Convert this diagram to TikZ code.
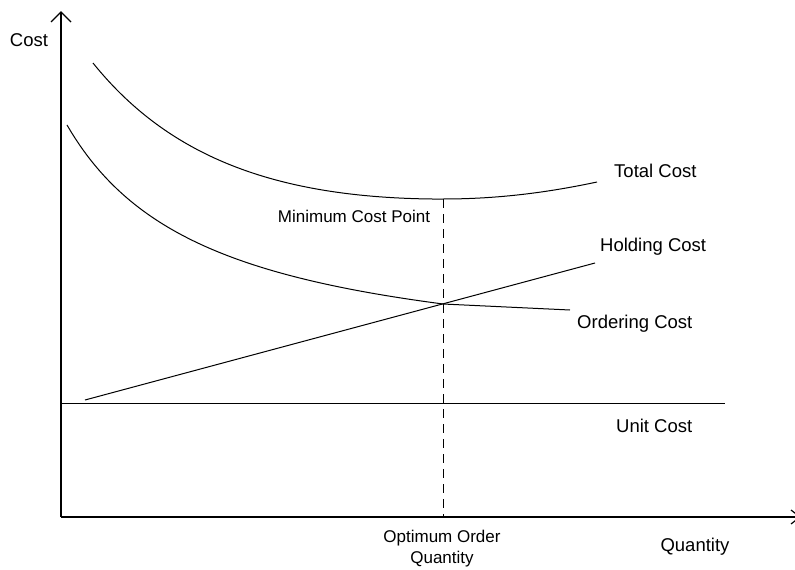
\documentclass[tikz,border=0pt]{standalone}
\usepackage{fontspec}
\setmainfont{Liberation Sans}
\begin{document}
\begin{tikzpicture}[x=1pt,y=-1pt,
  curve/.style={line width=1pt,black},
  axis/.style={line width=1.2pt,black},
  lbl/.style={font=\fontsize{18.5}{21}\selectfont,inner sep=0pt},
  small/.style={font=\fontsize{17}{21}\selectfont,inner sep=0pt,align=center}]
\useasboundingbox (0,0) rectangle (795,570);
% axes
\coordinate (O) at (61,517);
\coordinate (ytop) at (61,12);
\coordinate (xend) at (800,517);
\draw[axis] (O) -- (ytop);
\draw[axis] (51,22) -- (ytop) -- (71,22);
\draw[axis] (O) -- (xend);
\draw[axis] (791,510) -- (xend) -- (791,524);
% unit cost
\coordinate (u0) at (61,403);
\coordinate (u1) at (725,403);
\draw[curve] (u0) -- (u1);
% holding cost
\coordinate (h0) at (85,400);
\coordinate (h1) at (595,263);
\draw[curve] (h0) -- (h1);
% ordering cost: hyperbola, u = x/100
\coordinate (eq) at (443,304);
\draw[curve] plot[domain=0.67:4.43,samples=90,variable=\u] ({100*\u},{372.1-353.61/(\u+0.761)});
\coordinate (o1) at (570,310);
\draw[curve] (eq) -- (o1);
% total cost: hyperbola plus linear term, lowest at the optimum
\coordinate (tmin) at (443,199);
\coordinate (tend) at (597,182);
\draw[curve] plot[domain=0.93:4.43,samples=90,variable=\u] ({100*\u},{552.4-1345.2/(\u+2)-32.536*\u});
\draw[curve] (tmin) .. controls (500,199) and (550,192) .. (tend);
% optimum line
\coordinate (qx) at (443,517);
\draw[line width=1pt,dash pattern=on 9pt off 6pt] (tmin) -- (qx);
% labels
\node[lbl,anchor=center] (cost) at (29,40) {Cost};
\node[lbl,anchor=west] (ltc) at (614,171) {Total Cost};
\node[lbl,anchor=west] (lhc) at (600,247) {Holding Cost};
\node[lbl,anchor=west] (loc) at (577,324) {Ordering Cost};
\node[lbl,anchor=west] (luc) at (616,426) {Unit Cost};
\node[small,anchor=center] (lmin) at (354,216) {Minimum Cost Point};
\node[small,anchor=center] (lopt) at (442,549) {Optimum Order\\Quantity};
\node[lbl,anchor=center] (lq) at (695,547) {Quantity};
\end{tikzpicture}
\end{document}
